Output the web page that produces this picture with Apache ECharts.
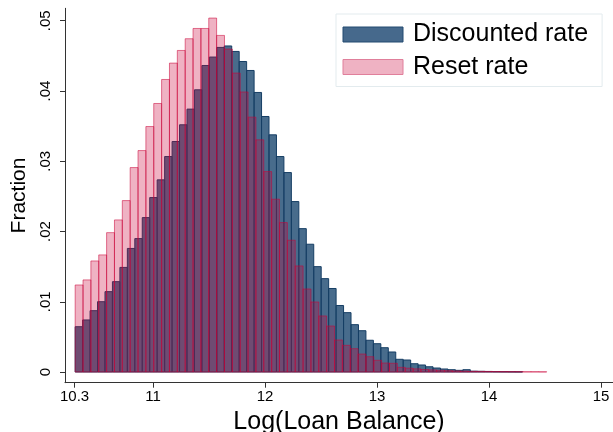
<!DOCTYPE html>
<html>
<head>
<meta charset="utf-8">
<script src="https://cdn.jsdelivr.net/npm/echarts@6/dist/echarts.min.js"></script>
<style>
  html, body { margin: 0; padding: 0; background: #fff; }
  #chart { width: 613px; height: 432px; }
</style>
</head>
<body>
<div id="chart"></div>
<script>
// Histogram bin layout (log loan balance), 60 bins per group
var binCount = 60;
var discountedMin = 10.305, discountedMax = 14.299;
var resetMin = 10.305, resetMax = 14.515;

// Fraction of loans in each bin
var discountedFrac = [
  0.00645, 0.00741, 0.00873, 0.01001, 0.01144, 0.01286, 0.01489, 0.01759, 0.01899, 0.02198,
  0.02483, 0.02735, 0.03067, 0.03281, 0.03519, 0.03742, 0.04017, 0.04363, 0.04483, 0.04620,
  0.04641, 0.04563, 0.04420, 0.04292, 0.03979, 0.03637, 0.03376, 0.03067, 0.02839, 0.02426,
  0.02041, 0.01819, 0.01500, 0.01329, 0.01189, 0.00947, 0.00845, 0.00674, 0.00588, 0.00452,
  0.00403, 0.00346, 0.00285, 0.00181, 0.00171, 0.00118, 0.00100, 0.00075, 0.00057, 0.00043,
  0.00033, 0.00024, 0.00033, 0.00012, 0.00010, 0.00008, 0.00006, 0.00005, 0.00004, 0.00003
];
var resetFrac = [
  0.01239, 0.01311, 0.01581, 0.01667, 0.01984, 0.02165, 0.02440, 0.02910, 0.03152, 0.03494,
  0.03822, 0.04164, 0.04397, 0.04577, 0.04744, 0.04890, 0.04890, 0.05038, 0.04791, 0.04597,
  0.04255, 0.03986, 0.03628, 0.03305, 0.02853, 0.02460, 0.02127, 0.01876, 0.01510, 0.01182,
  0.00997, 0.00798, 0.00655, 0.00456, 0.00380, 0.00332, 0.00256, 0.00218, 0.00167, 0.00128,
  0.00124, 0.00067, 0.00055, 0.00045, 0.00036, 0.00030, 0.00024, 0.00020, 0.00016, 0.00013,
  0.00010, 0.00009, 0.00008, 0.00007, 0.00006, 0.00005, 0.00005, 0.00004, 0.00004, 0.00003
];

var seriesNames = ['Discounted rate', 'Reset rate'];
var xTicks = [10.3, 11, 12, 13, 14, 15];
var yTicks = [0, 0.01, 0.02, 0.03, 0.04, 0.05];

var FONT = '"Liberation Sans", Arial, Helvetica, sans-serif';

// [binLeft, binRight, fraction] rows
function toBins(minV, maxV, fracs) {
  var w = (maxV - minV) / binCount;
  return fracs.map(function (v, i) { return [minV + i * w, minV + (i + 1) * w, v]; });
}

function renderBin(params, api) {
  var topLeft = api.coord([api.value(0), api.value(2)]);
  var bottomRight = api.coord([api.value(1), 0]);
  return {
    type: 'rect',
    shape: {
      x: topLeft[0],
      y: topLeft[1],
      width: bottomRight[0] - topLeft[0],
      height: bottomRight[1] - topLeft[1]
    },
    style: api.style()
  };
}

function fmtFrac(v) {
  if (Math.abs(v) < 1e-9) return '0';
  var n = Math.round(v * 100);
  return '.' + (n < 10 ? '0' + n : String(n));
}

var navyFill = 'rgba(26,71,111,0.8)';
var navyLine = 'rgba(22,62,100,1)';
var pinkFill = 'rgba(202,0,55,0.30)';
var pinkLine = 'rgba(202,0,55,0.53)';

var chart = echarts.init(document.getElementById('chart'), null, { renderer: 'canvas' });

chart.setOption({
  animation: false,
  backgroundColor: '#ffffff',
  textStyle: { fontFamily: FONT },
  grid: { left: 65, right: 0, top: 8.3, bottom: 49.3, containLabel: false, outerBoundsMode: 'none' },
  legend: {
    orient: 'vertical',
    left: 336,
    top: 14,
    padding: [8, 14, 7, 6.5],
    itemWidth: 60,
    itemHeight: 15,
    itemGap: 7.5,
    selectedMode: false,
    borderColor: '#e3ebee',
    borderWidth: 1,
    backgroundColor: '#ffffff',
    textStyle: { fontSize: 25, color: '#000', fontFamily: FONT, lineHeight: 24, padding: [0, 0, 0, 5] },
    data: [
      { name: seriesNames[0], icon: 'rect', itemStyle: { color: '#46698c', borderColor: '#234a70', borderWidth: 1 } },
      { name: seriesNames[1], icon: 'rect', itemStyle: { color: '#efb2c3', borderColor: '#e07f9b', borderWidth: 1 } }
    ]
  },
  xAxis: {
    type: 'value',
    min: 10.2143,
    max: 15.107,
    axisLine: { show: true, onZero: false, lineStyle: { color: '#333', width: 1 } },
    axisTick: { show: true, length: 5, customValues: xTicks, lineStyle: { color: '#333' } },
    axisLabel: {
      customValues: xTicks, margin: 7, fontSize: 15, color: '#000', fontFamily: FONT,
      formatter: function (v) { return String(v); }
    },
    splitLine: { show: false },
    name: 'Log(Loan Balance)',
    nameLocation: 'middle',
    nameGap: 21,
    nameTextStyle: { fontSize: 25, color: '#000', fontFamily: FONT }
  },
  yAxis: {
    type: 'value',
    min: -0.00152,
    max: 0.05177,
    axisLine: { show: true, onZero: false, lineStyle: { color: '#333', width: 1 } },
    axisTick: { show: true, length: 5, customValues: yTicks, lineStyle: { color: '#333' } },
    axisLabel: {
      customValues: yTicks, rotate: 90, margin: 12, fontSize: 15, color: '#000', fontFamily: FONT,
      formatter: fmtFrac
    },
    splitLine: { show: false },
    name: 'Fraction',
    nameLocation: 'middle',
    nameRotate: 90,
    nameGap: 34,
    nameTextStyle: { fontSize: 21, color: '#000', fontFamily: FONT }
  },
  series: [
    {
      name: seriesNames[0],
      type: 'custom',
      renderItem: renderBin,
      encode: { x: [0, 1], y: 2 },
      itemStyle: { color: navyFill, borderColor: navyLine, borderWidth: 1 },
      data: toBins(discountedMin, discountedMax, discountedFrac)
    },
    {
      name: seriesNames[1],
      type: 'custom',
      renderItem: renderBin,
      encode: { x: [0, 1], y: 2 },
      itemStyle: { color: pinkFill, borderColor: pinkLine, borderWidth: 1 },
      data: toBins(resetMin, resetMax, resetFrac)
    }
  ]
});
</script>
</body>
</html>
